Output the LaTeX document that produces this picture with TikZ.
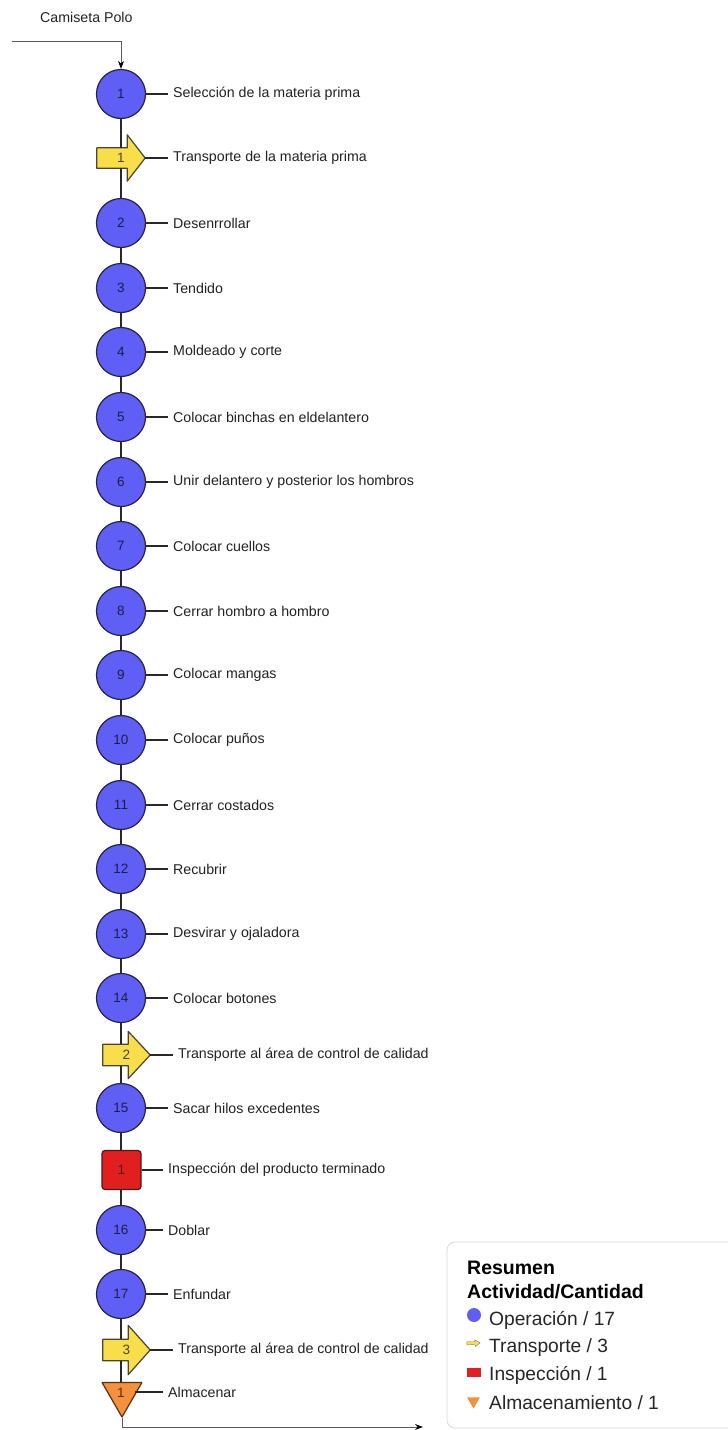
\documentclass[tikz,border=0pt]{standalone}
\usepackage{fontspec}
\setmainfont{Liberation Sans}
\usetikzlibrary{shapes.geometric,arrows.meta,backgrounds}

\definecolor{opfill}{RGB}{95,95,245}
\definecolor{opline}{RGB}{35,35,74}
\definecolor{numcol}{RGB}{28,28,80}
\definecolor{trfill}{RGB}{248,222,74}
\definecolor{trline}{RGB}{74,69,48}
\definecolor{infill}{RGB}{226,31,31}
\definecolor{inline}{RGB}{74,26,26}
\definecolor{stfill}{RGB}{243,145,60}
\definecolor{stline}{RGB}{90,48,16}
\definecolor{txt}{RGB}{34,34,34}
\definecolor{wire}{RGB}{40,40,40}

\tikzset{
  op/.style={circle, draw=opline, fill=opfill, line width=1.2pt, minimum size=49pt,
    inner sep=0pt, text=numcol, font=\fontsize{13.5}{15}\selectfont},
  trbox/.style={rectangle, minimum width=48pt, minimum height=20pt, inner sep=0pt,
    text=trline, font=\fontsize{13.5}{15}\selectfont},
  trshape/.style={draw=trline, fill=trfill, line width=1.2pt, line join=round},
  insp/.style={rectangle, rounded corners=3pt, draw=inline, fill=infill, line width=1.2pt,
    minimum size=39pt, inner sep=0pt, text=inline, font=\fontsize{13.5}{15}\selectfont},
  stor/.style={regular polygon, regular polygon sides=3, shape border rotate=180,
    draw=stline, fill=stfill, line width=1.2pt, line join=round, minimum size=46pt, inner sep=0pt},
  lbl/.style={anchor=west, inner sep=0pt, text=txt, font=\fontsize{14.2}{17}\selectfont},
  link/.style={draw=wire, line width=1.1pt},
  tag/.style={draw=wire, line width=1.1pt, shorten >=5pt},
  flow/.style={draw=black!65, line width=1pt, -{Stealth[length=8pt,width=6pt,color=black]}},
  leg/.style={anchor=west, inner sep=0pt, text=black!85, font=\fontsize{19.2}{22}\selectfont},
  leghead/.style={anchor=west, inner sep=0pt, text=black, font=\fontsize{19.5}{22}\selectfont\bfseries},
}

% arrow-shaped transport symbol drawn around a named box node
\newcommand\trarrow[3]{% node, head length, head extend
  \path[trshape] (#1.north west) -- ([xshift=-#2]#1.north east)
    -- ([xshift=-#2,yshift=#3]#1.north east) -- (#1.east)
    -- ([xshift=-#2,yshift=-#3]#1.south east) -- ([xshift=-#2]#1.south east)
    -- (#1.south west) -- cycle;}

\begin{document}
\begin{tikzpicture}[x=1pt,y=-1pt]
\useasboundingbox (0,0) rectangle (728,1430);

\node[anchor=west, inner sep=0pt, text=txt, font=\fontsize{14.2}{17}\selectfont] (title) at (40,17) {Camiseta Polo};
\coordinate (start) at (12,41);

% operations, transports, inspection, storage
\node[op] (c1) at (121,94) {1};
\node[trbox] (t1) at (121,158) {1};
\node[op] (c2) at (121,223) {2};
\node[op] (c3) at (121,288) {3};
\node[op] (c4) at (121,352) {4};
\node[op] (c5) at (121,417) {5};
\node[op] (c6) at (121,482) {6};
\node[op] (c7) at (121,546) {7};
\node[op] (c8) at (121,611) {8};
\node[op] (c9) at (121,675) {9};
\node[op] (c10) at (121,740) {10};
\node[op] (c11) at (121,805) {11};
\node[op] (c12) at (121,869) {12};
\node[op] (c13) at (121,934) {13};
\node[op] (c14) at (121,998) {14};
\node[trbox, minimum width=47pt, minimum height=21pt] (t2) at (126.5,1055) {2};
\node[op] (c15) at (121,1108) {15};
\node[insp] (i1) at (121.5,1170) {1};
\node[op] (c16) at (121,1230) {16};
\node[op] (c17) at (121,1294) {17};
\node[trbox, minimum width=47pt, minimum height=21pt] (t3) at (126.5,1350) {3};
\node[stor] (a1) at (122,1394) {};
\node[text=stline, font=\fontsize{13.5}{15}\selectfont, inner sep=0pt] (a1n) at (121,1393) {1};
\coordinate (finish) at (423,1427);

\begin{pgfonlayer}{background}
  \fill[white] (0,0) rectangle (728,1430);
  \trarrow{t1}{18pt}{13pt}
  \trarrow{t2}{22pt}{13pt}
  \trarrow{t3}{22pt}{14pt}
\end{pgfonlayer}

% step labels
\node[lbl] (l1) at (173,94) {Selección de la materia prima};
\node[lbl] (lt1) at (173,158) {Transporte de la materia prima};
\node[lbl] (l2) at (173,223) {Desenrrollar};
\node[lbl] (l3) at (173,288) {Tendido};
\node[lbl] (l4) at (173,352) {Moldeado y corte};
\node[lbl] (l5) at (173,417) {Colocar binchas en eldelantero};
\node[lbl] (l6) at (173,482) {Unir delantero y posterior los hombros};
\node[lbl] (l7) at (173,546) {Colocar cuellos};
\node[lbl] (l8) at (173,611) {Cerrar hombro a hombro};
\node[lbl] (l9) at (173,675) {Colocar mangas};
\node[lbl] (l10) at (173,740) {Colocar puños};
\node[lbl] (l11) at (173,805) {Cerrar costados};
\node[lbl] (l12) at (173,869) {Recubrir};
\node[lbl] (l13) at (173,934) {Desvirar y ojaladora};
\node[lbl] (l14) at (173,998) {Colocar botones};
\node[lbl] (lt2) at (178,1055) {Transporte al área de control de calidad};
\node[lbl] (l15) at (173,1108) {Sacar hilos excedentes};
\node[lbl] (li1) at (168,1170) {Inspección del producto terminado};
\node[lbl] (l16) at (168,1230) {Doblar};
\node[lbl] (l17) at (173,1294) {Enfundar};
\node[lbl] (lt3) at (178,1350) {Transporte al área de control de calidad};
\node[lbl] (la1) at (168,1392) {Almacenar};

% label ticks
\foreach \s in {1,...,17} \draw[tag] (c\s.east) -- (l\s.west);
\draw[tag] (t1.east) -- (lt1.west);
\draw[tag] (t2.east) -- (lt2.west);
\draw[tag] (t3.east) -- (lt3.west);
\draw[tag] (i1.east) -- (li1.west);
\draw[tag] (a1.north east |- la1.west) ++(1pt,0) -- (la1.west);

% main flow line
\draw[flow] (start) -| (c1.north);
\draw[link] (c1.south) -- (t1.north);
\draw[link] (t1.south) -- (c2.north);
\foreach \a/\b in {2/3,3/4,4/5,5/6,6/7,7/8,8/9,9/10,10/11,11/12,12/13,13/14}
  \draw[link] (c\a.south) -- (c\b.north);
\draw[link] (c14.south) -- (c14.south |- t2.north);
\draw[link] (c15.north |- t2.south) -- (c15.north);
\draw[link] (c15.south) -- (i1.north -| c15.south);
\draw[link] (i1.south -| c16.north) -- (c16.north);
\draw[link] (c16.south) -- (c17.north);
\draw[link] (c17.south) -- (c17.south |- t3.north);
\draw[link] (c17.south |- t3.south) -- (c17.south |- a1.north);
\draw[flow] (a1.south) |- (finish);

% summary box
\draw[draw=black!15, line width=0.8pt, rounded corners=8pt, fill=white] (447,1242) rectangle (740,1428);
\node[leghead] (h1) at (467,1268) {Resumen};
\node[leghead] (h2) at (467,1292) {Actividad/Cantidad};
\node[circle, fill=opfill, minimum size=14pt, inner sep=0pt] (s1) at (474,1315) {};
\node[leg] (e1) at (489,1320) {Operación / 17};
\node[inner sep=0pt, minimum width=13pt, minimum height=7pt] (s2) at (473.5,1343) {};
\path[fill=trfill, draw=trline!70, line width=0.4pt] (s2.west) ++(0,1.3pt) -- ++(8pt,0) -- ++(0,1.8pt) -- (s2.east) -- ([xshift=-5pt,yshift=-3.6pt]s2.east) -- ++(0,1.8pt) -- ([yshift=-1.3pt]s2.west) -- cycle;
\node[leg] (e2) at (489,1348) {Transporte / 3};
\node[rectangle, fill=infill, minimum width=14pt, minimum height=9pt, inner sep=0pt] (s3) at (474,1372) {};
\node[leg] (e3) at (489,1375) {Inspección / 1};
\node[regular polygon, regular polygon sides=3, shape border rotate=180, fill=stfill, minimum size=15pt, inner sep=0pt] (s4) at (473.5,1401) {};
\node[leg] (e4) at (489,1403) {Almacenamiento / 1};
\end{tikzpicture}
\end{document}
